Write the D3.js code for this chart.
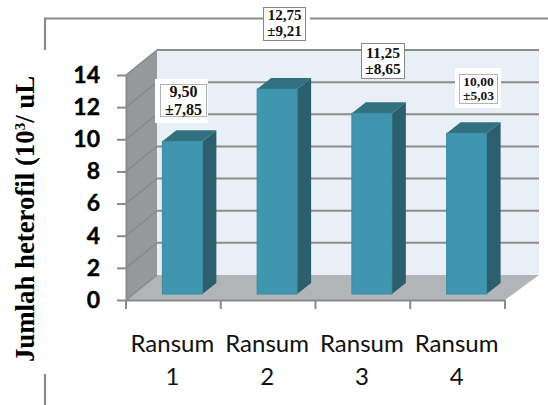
<!DOCTYPE html>
<html><head><meta charset="utf-8">
<script src="https://cdn.jsdelivr.net/npm/d3@7"></script>
<style>html,body{margin:0;padding:0;background:#fff}svg{display:block}</style></head>
<body><svg id="c" width="548" height="405"></svg>
<script>
const categories = ["Ransum 1","Ransum 2","Ransum 3","Ransum 4"];
const values = [9.5,12.75,11.25,10];
const meanLabels = ["9,50","12,75","11,25","10,00"];
const sdLabels = ["±7,85","±9,21","±8,65","±5,03"];
const yTicks = [0,2,4,6,8,10,12,14];

const svg = d3.select("#c");
const depthX = 31, depthY = 25;
const barDX = 14, barDY = 11;
const y = d3.scaleLinear().domain([0,14]).range([300,75]);
const x = d3.scaleBand().domain(categories).range([126,505]);
const xBar = d3.scaleBand().domain(categories).range([126,505]).paddingInner(0.578).paddingOuter(0.289);
const barShift = 9, barBase = 6;
const poly = pts => pts.map(p=>p.join(",")).join(" ");
const x0=126,x1=505,yB=y(0),yT=y(14);
const backR = 539;

// frame
const frameC="#8a8a8a";
svg.append("path").attr("d","M45,50V18.5H263M310,18.5H548M45,374V405")
  .attr("fill","none").attr("stroke",frameC).attr("stroke-width",2.2);

// walls
svg.append("polygon").attr("points",poly([[x0+depthX,yT-depthY],[backR,yT-depthY],[backR,yB-depthY],[x0+depthX,yB-depthY]])).attr("fill","#e9eff6");
svg.append("polygon").attr("points",poly([[x0,yT],[x0+depthX,yT-depthY],[x0+depthX,yB-depthY],[x0,yB]])).attr("fill","#95999b");
svg.append("polygon").attr("points",poly([[x0,yB],[x0+depthX,yB-depthY],[backR,yB-depthY],[x1,yB]])).attr("fill","#b2b5b8");

// gridlines
yTicks.forEach(t=>{
  if(t>0) svg.append("line").attr("x1",x0+depthX).attr("x2",backR).attr("y1",y(t)-depthY).attr("y2",y(t)-depthY).attr("stroke","#8c8c8c").attr("stroke-width",2);
  svg.append("line").attr("x1",x0).attr("x2",x0+depthX).attr("y1",y(t)).attr("y2",y(t)-depthY).attr("stroke","#868a8c").attr("stroke-width",1.5);
});

// bars
categories.forEach((c,i)=>{
  const l=xBar(c)+barShift, w=xBar.bandwidth(), r=l+w, t=y(values[i])-barBase, b=yB-barBase;
  svg.append("polygon").attr("points",poly([[r,t],[r+barDX,t-barDY],[r+barDX,b-barDY],[r,b]])).attr("fill","#2b5f6e");
  svg.append("polygon").attr("points",poly([[l,t],[l+barDX,t-barDY],[r+barDX,t-barDY],[r,t]])).attr("fill","#30707f");
  svg.append("rect").attr("x",l).attr("y",t).attr("width",w).attr("height",b-t).attr("fill","#4096af").attr("stroke","#3a8aa1").attr("stroke-width",1);
});

// axes
const axL = svg.append("g").attr("transform",`translate(${x0},0)`).call(d3.axisLeft(y).tickValues(yTicks).tickSize(9).tickSizeOuter(0).tickPadding(17));
axL.selectAll("text").attr("font-family","Lato").attr("font-weight",700).attr("font-size",23).attr("fill","#000").attr("stroke","#000").attr("stroke-width",0.4);
const axB = svg.append("g").attr("transform",`translate(0,${yB})`).call(d3.axisBottom(x).tickValues([]).tickSizeOuter(0));
[axL,axB].forEach(a=>{a.selectAll("path,line").attr("stroke",frameC).attr("stroke-width",2);});
const tickPos=[...categories.map(c=>x(c)),x1];
tickPos.forEach(p=>svg.append("line").attr("x1",p).attr("x2",p).attr("y1",yB).attr("y2",yB+9).attr("stroke",frameC).attr("stroke-width",2));

// category labels
categories.forEach(c=>{
  const parts=c.split(" "), cx=x(c)+x.bandwidth()/2-1;
  parts.forEach((s,k)=>svg.append("text").attr("x",cx).attr("y",352+k*33).attr("text-anchor","middle")
    .attr("font-family","Lato").attr("font-size",24).attr("fill","#111").text(s));
});

// y title
const yt=svg.append("text").attr("transform","translate(34,219) rotate(-90)").attr("text-anchor","middle")
  .attr("font-family","Liberation Serif").attr("font-weight",700).attr("font-size",26.8).attr("fill","#000");
yt.append("tspan").text("Jumlah heterofil (10");
yt.append("tspan").attr("font-size",15).attr("dy",-9).text("3");
yt.append("tspan").attr("dy",9).text("/ uL");

// value labels
const boxes=[
 {wx:155,wy:79,ww:53,wh:44,x:160,y:84,w:47,h:33,b1:97,b2:115,fs:16,c:"#666"},
 {wx:263,wy:7,ww:43,wh:34,x:263,y:7,w:43,h:34,b1:20,b2:36,fs:15,c:"#111"},
 {wx:361,wy:43,ww:44,wh:36,x:361,y:43,w:44,h:36,b1:58,b2:74,fs:15.5,c:"#111"},
 {wx:455,wy:68,ww:46,wh:40,x:459,y:74,w:39,h:30,b1:86,b2:100,fs:13.5,c:"#666"}];
boxes.forEach((bx,i)=>{
  svg.append("rect").attr("x",bx.wx).attr("y",bx.wy).attr("width",bx.ww).attr("height",bx.wh).attr("fill","#fff");
  svg.append("rect").attr("x",bx.x+.5).attr("y",bx.y+.5).attr("width",bx.w-1).attr("height",bx.h-1).attr("fill","#fff")
    .attr("stroke",bx.c).attr("stroke-width",1).attr("stroke-dasharray","1,1");
  const cx=bx.x+bx.w/2;
  [[meanLabels[i],bx.b1],[sdLabels[i],bx.b2]].forEach(([s,b])=>
    svg.append("text").attr("x",cx).attr("y",b).attr("text-anchor","middle").attr("font-family","Liberation Serif").attr("font-weight",700).attr("font-size",bx.fs).attr("fill","#111").text(s));
});
</script></body></html>
